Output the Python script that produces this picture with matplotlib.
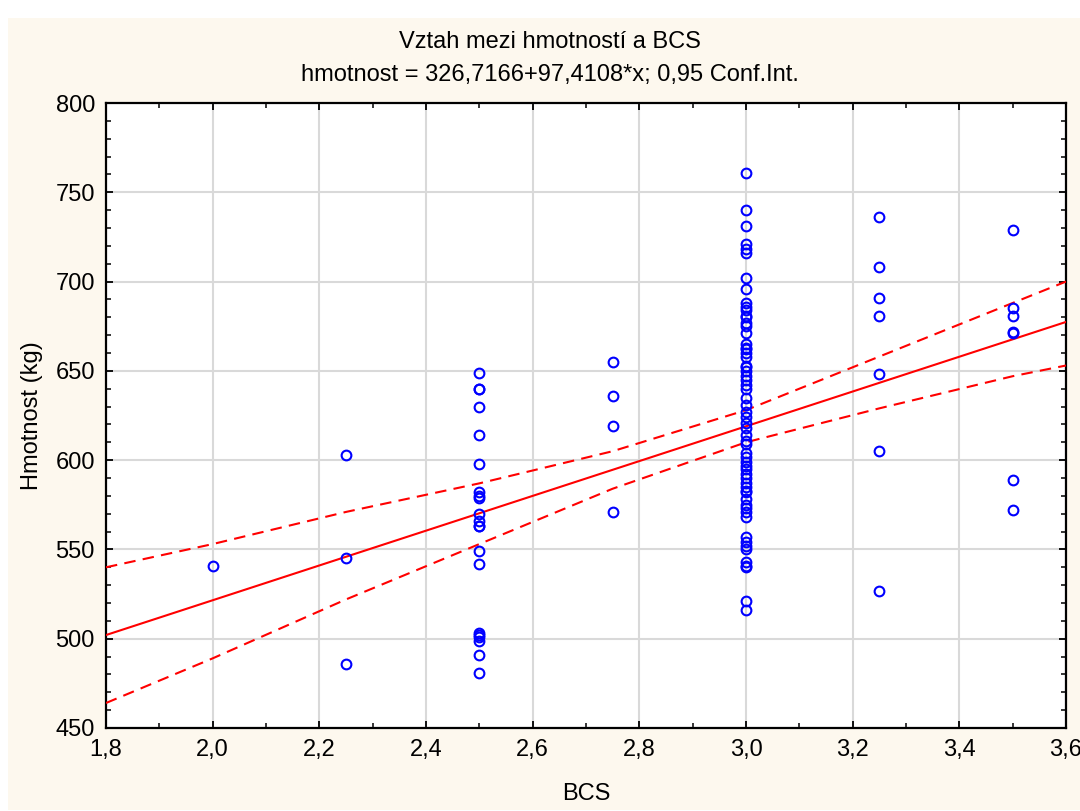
import numpy as np
import matplotlib
matplotlib.use("Agg")
import matplotlib.pyplot as plt
from matplotlib.patches import Rectangle
from matplotlib.ticker import MultipleLocator, FuncFormatter

plt.rcParams['font.family'] = ['Liberation Sans', 'DejaVu Sans']

# ---- data (BCS groups and weights) ----
bcs_200 = [541]
bcs_225 = [603, 545, 486]
bcs_250 = [649, 640, 640, 630, 614, 598, 582, 580, 579, 570, 566, 563, 563,
           549, 542, 503, 502, 501, 499, 491, 481]
bcs_275 = [655, 636, 619, 571]
bcs_300 = [761, 740, 731, 721, 718, 716, 702, 696, 688, 686, 684, 681, 680,
           677, 675, 671, 665, 663, 662, 660, 658, 653, 652, 650, 647, 645,
           642, 640, 635, 631, 627, 624, 621, 618, 614, 611, 609, 604, 602,
           599, 597, 595, 592, 590, 587, 585, 583, 582, 578, 575, 573, 571,
           568, 557, 554, 552, 550, 543, 541, 540, 521, 516]
bcs_325 = [736, 708, 691, 681, 648, 605, 527]
bcs_350 = [729, 685, 681, 672, 671, 589, 572]

groups = {2.0: bcs_200, 2.25: bcs_225, 2.5: bcs_250, 2.75: bcs_275,
          3.0: bcs_300, 3.25: bcs_325, 3.5: bcs_350}

# regression line (from the chart subtitle)
intercept = 326.7166
slope = 97.4108

# 0.95 confidence band
ci_x = [1.8, 2.0, 2.25, 2.5, 2.75, 3.0, 3.25, 3.5, 3.6]
ci_upper = [540, 553, 571, 587, 605, 628, 658, 688, 700]
ci_lower = [464, 489, 522, 553, 584, 610, 629, 647, 653]

x_ticks = [1.8, 2.0, 2.2, 2.4, 2.6, 2.8, 3.0, 3.2, 3.4, 3.6]
y_ticks = [450, 500, 550, 600, 650, 700, 750, 800]

title1 = "Vztah mezi hmotností a BCS"
title2 = "hmotnost = 326,7166+97,4108*x; 0,95 Conf.Int."
xlabel = "BCS"
ylabel = "Hmotnost (kg)"

# ---- assemble ----
xs = np.concatenate([[k] * len(v) for k, v in groups.items()]).astype(float)
ys = np.concatenate([v for v in groups.values()]).astype(float)

xline = np.array([x_ticks[0], x_ticks[-1]])
yline = intercept + slope * xline

W, H = 1080, 811
fig = plt.figure(figsize=(W / 100, H / 100), dpi=100)
fig.patch.set_facecolor('white')
fig.add_artist(Rectangle((8 / W, 1 - 810 / H), 1 - 8 / W, (810 - 18) / H,
                         transform=fig.transFigure, facecolor='#FDF8EE',
                         edgecolor='none', zorder=-10))

ax = fig.add_axes([106 / W, 1 - 728 / H, (1066 - 106) / W, (728 - 103) / H])
ax.set_facecolor('white')

red = '#FF0000'
ax.plot(xline, yline, color=red, lw=1.5, zorder=3)
ax.plot(ci_x, ci_upper, color=red, lw=1.5, ls=(0, (5.5, 3.5)), zorder=3)
ax.plot(ci_x, ci_lower, color=red, lw=1.5, ls=(0, (5.5, 3.5)), zorder=3)

ax.plot(xs, ys, ls='none', marker='o', ms=7, mfc='none', mec='#0000FF',
        mew=1.5, zorder=4, clip_on=False)

ax.set_xlim(x_ticks[0], x_ticks[-1])
ax.set_ylim(y_ticks[0], y_ticks[-1])
ax.set_xticks(x_ticks)
ax.set_yticks(y_ticks)
ax.xaxis.set_minor_locator(MultipleLocator(0.1))
ax.yaxis.set_minor_locator(MultipleLocator(10))
ax.xaxis.set_major_formatter(FuncFormatter(lambda v, p: f"{v:.1f}".replace('.', ',')))
ax.yaxis.set_major_formatter(FuncFormatter(lambda v, p: f"{v:.0f}"))

ax.grid(True, which='major', color='#D9D9D9', lw=1.5, zorder=0)
ax.set_axisbelow(True)
ax.tick_params(which='both', direction='in', top=True, right=True,
               labelsize=17, colors='black', pad=8)
ax.tick_params(which='major', length=5, width=1.3)
ax.tick_params(which='minor', length=3.5, width=1.1)
for sp in ax.spines.values():
    sp.set_linewidth(1.6)
    sp.set_color('black')

ax.set_xlabel(xlabel, fontsize=17, labelpad=16)
ax.set_ylabel(ylabel, fontsize=17, labelpad=9)

fig.text(550 / W, 1 - 42 / H, title1, ha='center', va='center', fontsize=17)
fig.text(550 / W, 1 - 75 / H, title2, ha='center', va='center', fontsize=17)

fig.savefig('out.png', dpi=100, facecolor=fig.get_facecolor())
